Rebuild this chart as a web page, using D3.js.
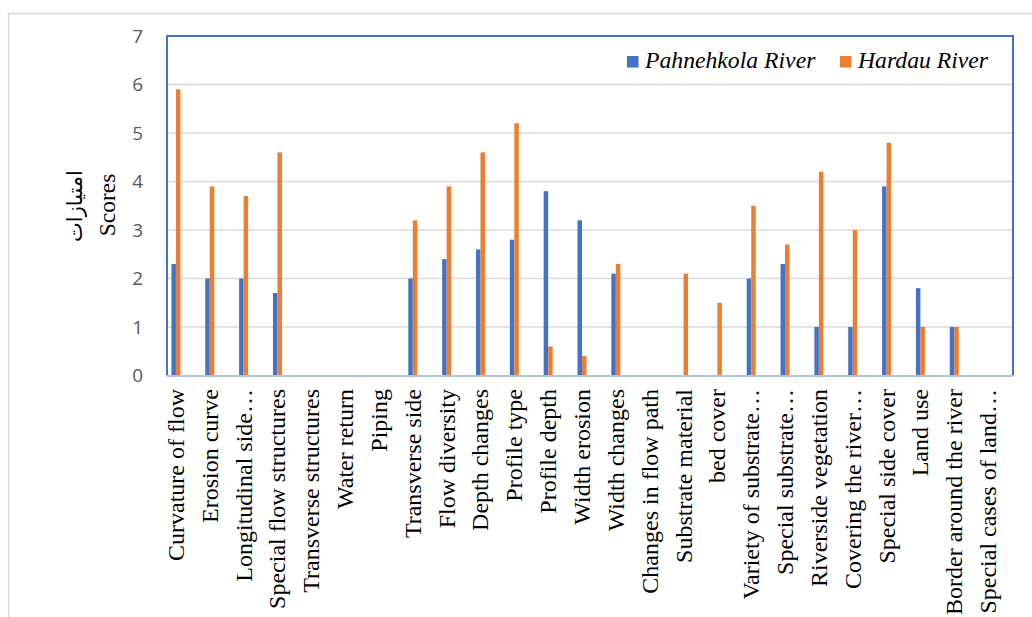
<!DOCTYPE html>
<html>
<head>
<meta charset="utf-8">
<script src="https://cdn.jsdelivr.net/npm/d3@7"></script>
<style>
  body { margin: 0; background: #fff; }
  svg { display: block; }
</style>
</head>
<body>
<div id="chart"></div>
<script>
// Chart data
var categories = [
  "Curvature of flow", "Erosion curve", "Longitudinal side\u2026", "Special flow structures",
  "Transverse structures", "Water return", "Piping", "Transverse side", "Flow diversity",
  "Depth changes", "Profile type", "Profile depth", "Width erosion", "Width changes",
  "Changes in flow path", "Substrate material", "bed cover", "Variety of substrate\u2026",
  "Special substrate\u2026", "Riverside vegetation", "Covering the river\u2026",
  "Special side cover", "Land use", "Border around the river", "Special cases of land\u2026"
];
var seriesNames = ["Pahnehkola River", "Hardau River"];
var pahnehkola = [2.3, 2, 2, 1.7, 0, 0, 0, 2, 2.4, 2.6, 2.8, 3.8, 3.2, 2.1, 0, 0, 0, 2, 2.3, 1, 1, 3.9, 1.8, 1, 0];
var hardau     = [5.9, 3.9, 3.7, 4.6, 0, 0, 0, 3.2, 3.9, 4.6, 5.2, 0.6, 0.4, 2.3, 0, 2.1, 1.5, 3.5, 2.7, 4.2, 3, 4.8, 1, 1, 0];
var yTicks = [0, 1, 2, 3, 4, 5, 6, 7];
var colors = ["#4472c4", "#ed7d31"];

var width = 1032, height = 617;
var plotLeft = 167, plotRight = 1013, plotTop = 36, plotBottom = 375.5;

var svg = d3.select("#chart").append("svg")
    .attr("width", width)
    .attr("height", height);

// Outer frame (only top and left visible)
svg.append("path")
    .attr("d", "M8.5," + height + " V13.5 H" + width)
    .attr("fill", "none")
    .attr("stroke", "#d9d9d9")
    .attr("stroke-width", 1.5);

// Scales
var x = d3.scaleBand()
    .domain(categories)
    .range([plotLeft, plotRight]);

var y = d3.scaleLinear()
    .domain([0, 7])
    .range([plotBottom, plotTop]);

// Bars sit left of category centre (as in the original layout)
var barW = 4.5;
var x1 = d3.scaleBand()
    .domain(seriesNames)
    .range([-8 - barW, -8 + barW]);

// Gridlines
svg.append("g")
  .selectAll("line")
  .data(yTicks.filter(function(t) { return t > 0 && t < 7; }))
  .enter().append("line")
    .attr("x1", plotLeft)
    .attr("x2", plotRight)
    .attr("y1", function(d) { return y(d); })
    .attr("y2", function(d) { return y(d); })
    .attr("stroke", "#d9d9d9")
    .attr("stroke-width", 1.4);

// Y tick labels
svg.append("g")
  .selectAll("text")
  .data(yTicks)
  .enter().append("text")
    .attr("x", 143)
    .attr("y", function(d) { return y(d); })
    .attr("dy", "0.36em")
    .attr("text-anchor", "end")
    .attr("font-family", "Open Sans, Liberation Sans, sans-serif")
    .attr("font-size", 19)
    .attr("fill", "#595959")
    .text(function(d) { return d; });

// Bars
var series = [pahnehkola, hardau];
series.forEach(function(values, si) {
  svg.append("g")
    .selectAll("rect")
    .data(values)
    .enter().append("rect")
      .attr("x", function(d, i) { return x(categories[i]) + x.bandwidth() / 2 + x1(seriesNames[si]); })
      .attr("y", function(d) { return y(d); })
      .attr("width", x1.bandwidth())
      .attr("height", function(d) { return y(0) - y(d); })
      .attr("fill", colors[si]);
});

// Plot border
svg.append("path")
    .attr("d", "M" + plotLeft + "," + plotBottom + " V" + plotTop + " H" + plotRight + " V" + plotBottom)
    .attr("fill", "none")
    .attr("stroke", "#4472c4")
    .attr("stroke-width", 2);
svg.append("line")
    .attr("x1", plotLeft)
    .attr("x2", plotRight)
    .attr("y1", plotBottom + 0.5)
    .attr("y2", plotBottom + 0.5)
    .attr("stroke", "#adc2e6")
    .attr("stroke-width", 2);

// Category labels (rotated)
svg.append("g")
  .selectAll("text")
  .data(categories)
  .enter().append("text")
    .attr("transform", function(d) {
      return "translate(" + (x(d) + x.bandwidth() / 2) + ",389) rotate(-90)";
    })
    .attr("text-anchor", "end")
    .attr("font-family", "Liberation Serif, Times New Roman, serif")
    .attr("font-size", 24)
    .attr("fill", "#000")
    .text(function(d) { return d; });

// Axis titles
svg.append("text")
    .attr("transform", "translate(82,206) rotate(-90)")
    .attr("text-anchor", "middle")
    .attr("font-family", "Noto Sans, DejaVu Sans, sans-serif")
    .attr("font-size", 21)
    .text("امتیازات");
svg.append("text")
    .attr("transform", "translate(115,205) rotate(-90)")
    .attr("text-anchor", "middle")
    .attr("font-family", "Liberation Serif, Times New Roman, serif")
    .attr("font-size", 23.5)
    .text("Scores");

// Legend
var legendX = [627, 840];
var legend = svg.append("g")
  .selectAll("g")
  .data(seriesNames)
  .enter().append("g")
    .attr("transform", function(d, i) { return "translate(" + legendX[i] + ",56)"; });
legend.append("rect")
    .attr("width", 11.5)
    .attr("height", 11.5)
    .attr("fill", function(d, i) { return colors[i]; });
legend.append("text")
    .attr("x", 18)
    .attr("y", 11.5)
    .attr("font-family", "Liberation Serif, Times New Roman, serif")
    .attr("font-style", "italic")
    .attr("font-size", 23.7)
    .text(function(d) { return d; });
</script>
</body>
</html>
